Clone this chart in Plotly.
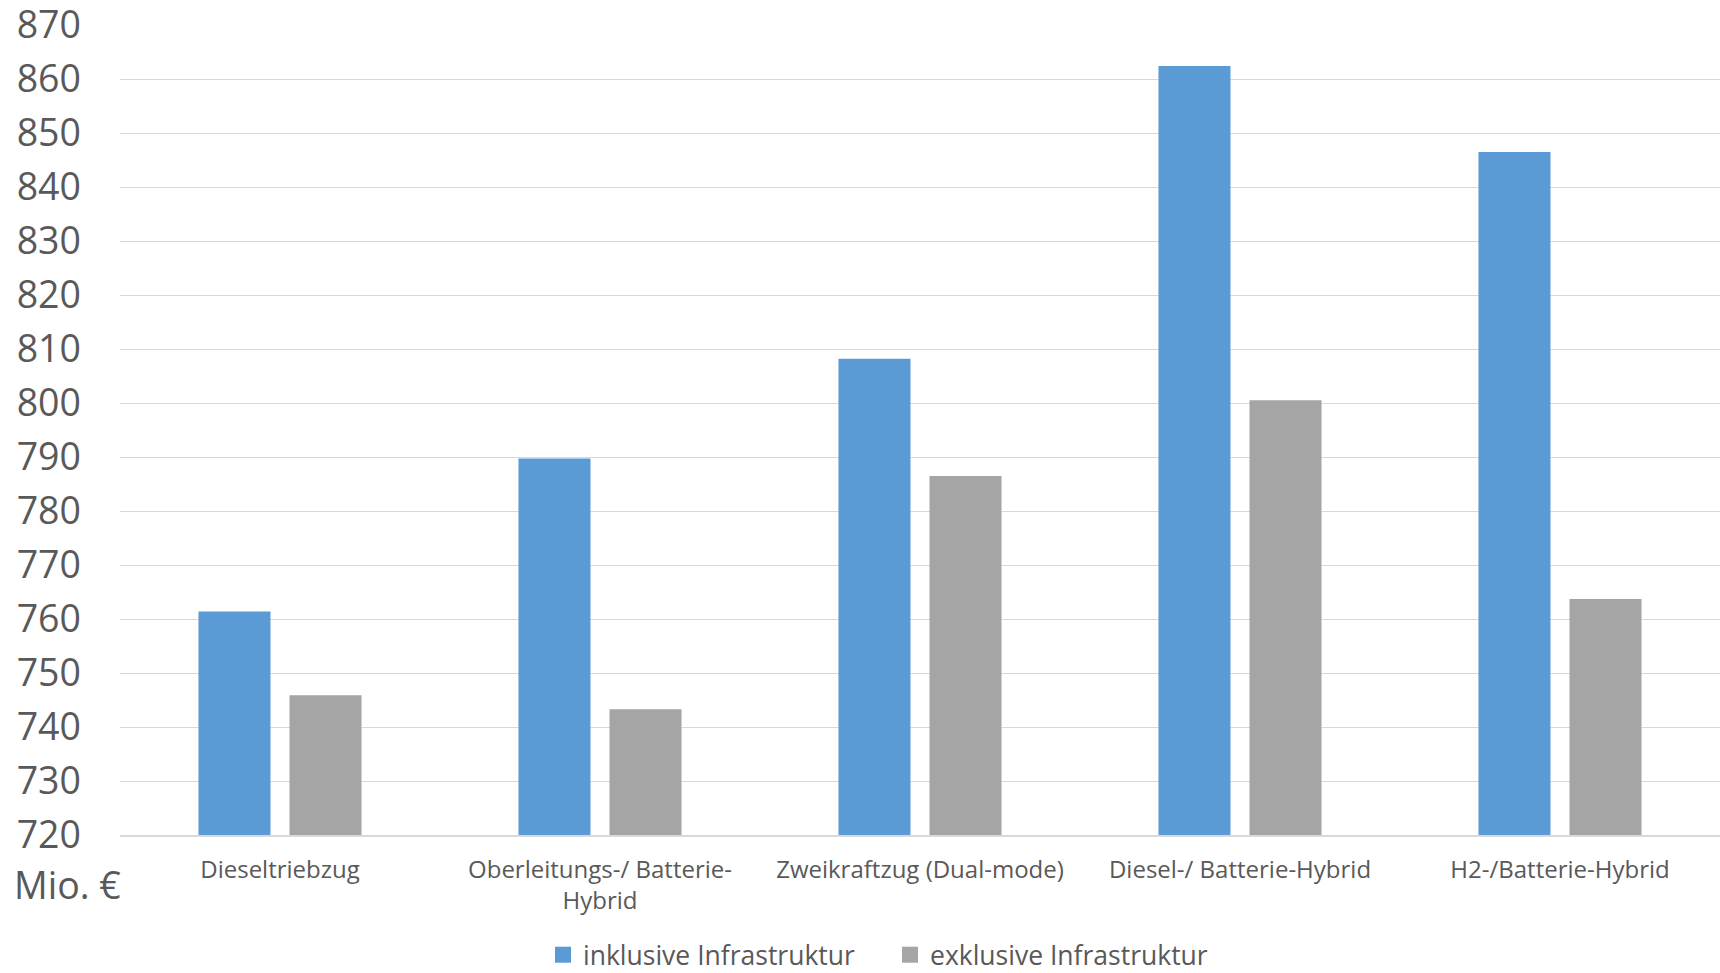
import plotly.graph_objects as go

# Kosten je Antriebskonzept (Mio. €)
categories = [
    "Dieseltriebzug",
    "Oberleitungs-/ Batterie-<br>Hybrid",
    "Zweikraftzug (Dual-mode)",
    "Diesel-/ Batterie-Hybrid",
    "H2-/Batterie-Hybrid",
]
incl_infra = [761.4, 789.7, 808.2, 862.4, 846.5]
excl_infra = [745.9, 743.3, 786.5, 800.5, 763.7]
series_names = ["inklusive Infrastruktur", "exklusive Infrastruktur"]
y_ticks = list(range(720, 871, 10))

BLUE = "#5b9bd5"
GREY = "#a5a5a5"
TEXT = "#595959"
GRID = "#d9d9d9"
FONT = "Open Sans"

fig = go.Figure()
for name, vals, col in [(series_names[0], incl_infra, BLUE), (series_names[1], excl_infra, GREY)]:
    fig.add_trace(go.Bar(
        x=categories, y=vals, name=name, marker=dict(color=col, line=dict(width=0)),
        showlegend=False,
    ))
# legend entries with square swatches
for name, col in [(series_names[0], BLUE), (series_names[1], GREY)]:
    fig.add_trace(go.Scatter(
        x=[None], y=[None], mode="markers", name=name,
        marker=dict(symbol="square", size=16, color=col),
    ))

fig.update_layout(
    width=1720, height=973,
    margin=dict(l=120, r=0, t=25, b=138, autoexpand=False),
    paper_bgcolor="white", plot_bgcolor="white",
    barmode="group", bargap=0.431, bargroupgap=0.209,
    font=dict(family=FONT, color=TEXT),
    legend=dict(
        orientation="h", xref="container", yref="container",
        x=543 / 1720, xanchor="left",
        y=(973 - 955) / 973, yanchor="middle",
        entrywidth=302, entrywidthmode="pixels",
        font=dict(size=26.5, color=TEXT, family=FONT),
        itemclick=False, itemdoubleclick=False,
    ),
    xaxis=dict(
        showline=True, linecolor=GRID, linewidth=2,
        showgrid=False, ticks="", automargin=False,
        tickfont=dict(size=24, color=TEXT, family=FONT),
        ticklabelstandoff=12,
    ),
    yaxis=dict(
        range=[720, 870], tickvals=y_ticks, automargin=False,
        showgrid=True, gridcolor=GRID, gridwidth=1.3,
        zeroline=False, showline=False, ticks="",
        tickfont=dict(size=37.5, color=TEXT, family=FONT),
        ticklabelstandoff=38, ticklabeloverflow="allow",
    ),
    annotations=[dict(
        text="Mio. €", xref="paper", yref="paper", x=0, y=-(884 - 835) / 810,
        xanchor="right", yanchor="middle", showarrow=False, xshift=3,
        font=dict(size=37.5, color=TEXT, family=FONT),
    )],
)

fig.write_html("out.html")
